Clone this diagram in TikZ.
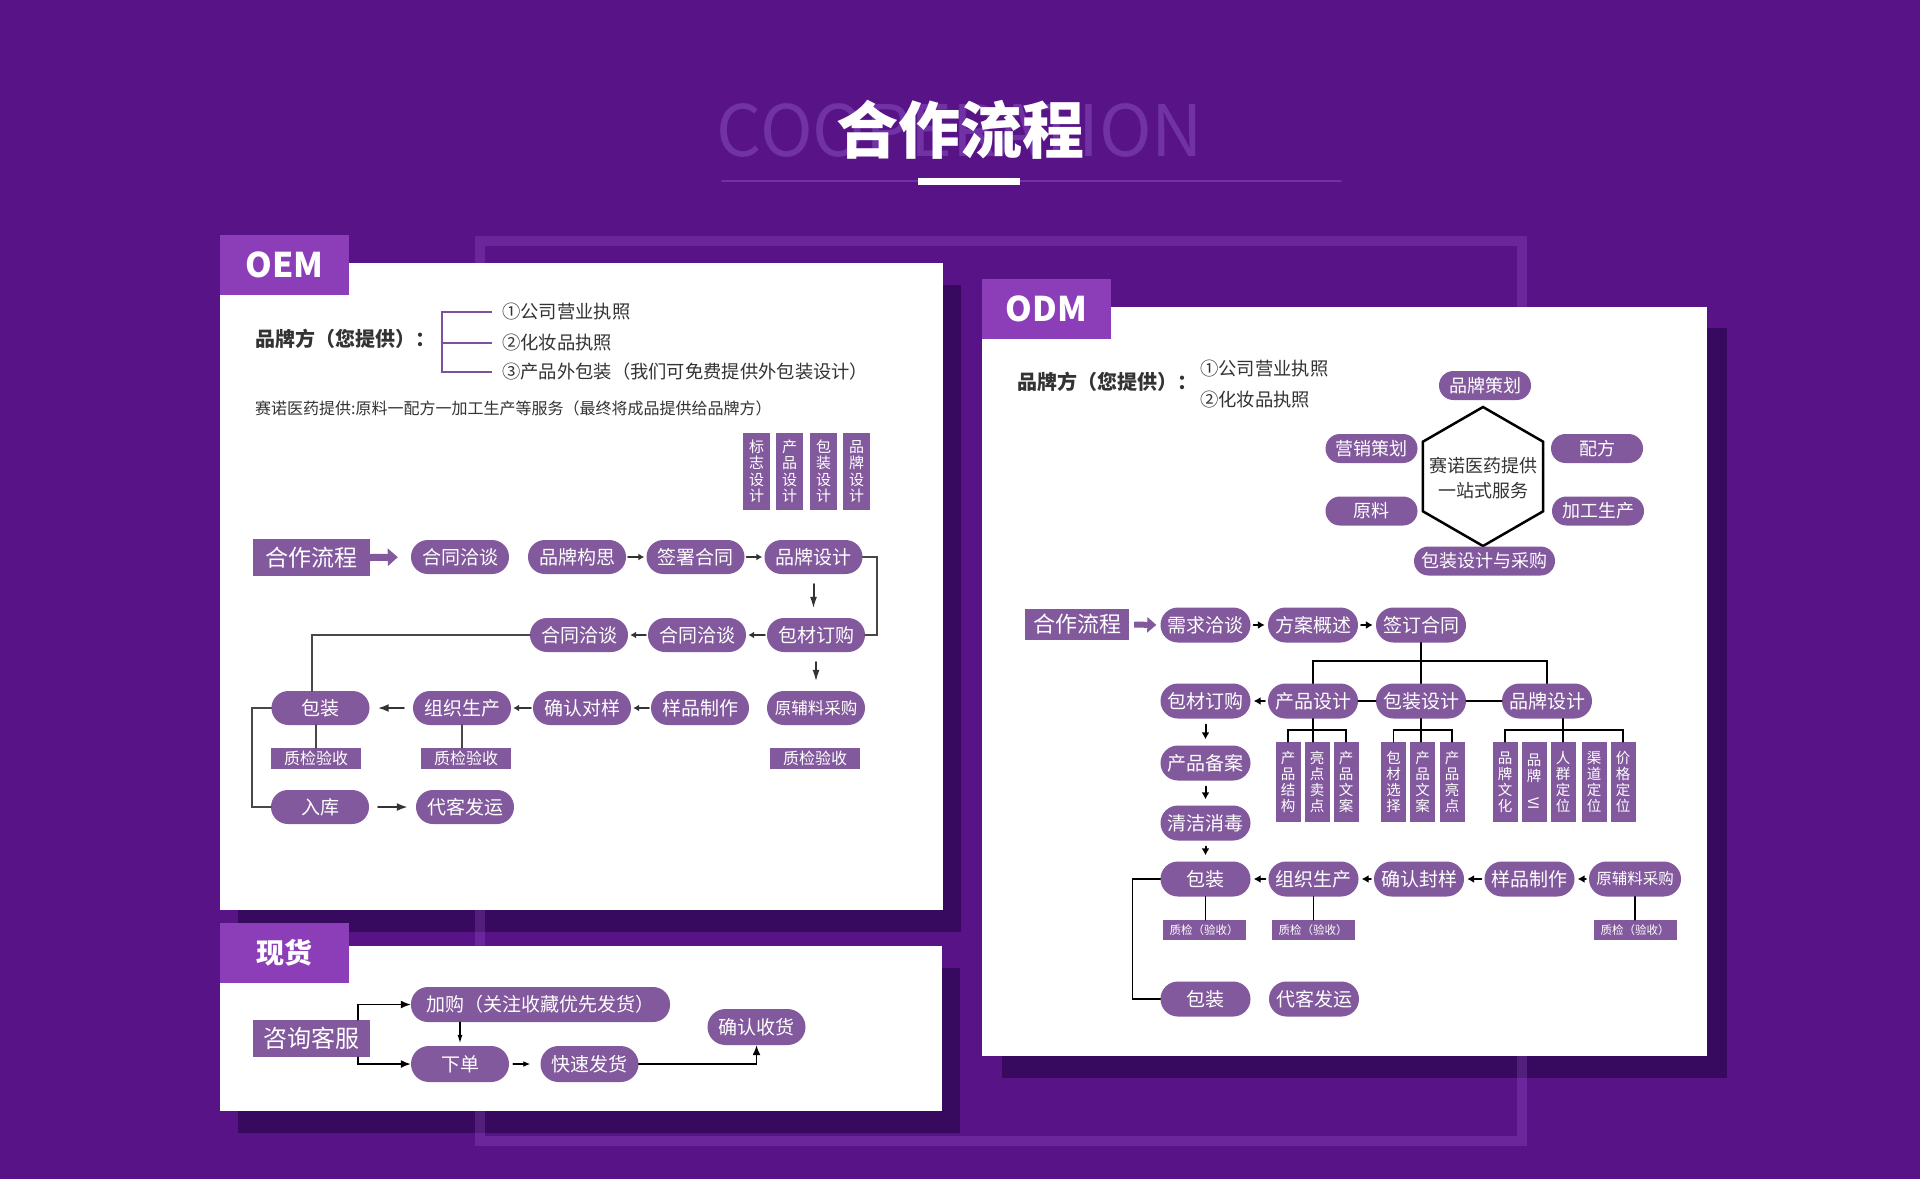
\documentclass[tikz,border=0pt]{standalone}
\usepackage{fontspec}
\usepackage{graphicx}
\setmainfont{Noto Sans CJK SC}
\usetikzlibrary{arrows.meta}
\definecolor{bgpurple}{RGB}{88,20,135}
\definecolor{ghostpurple}{RGB}{112,50,165}
\definecolor{framelight}{RGB}{165,95,215}
\definecolor{shadowpurple}{RGB}{55,10,95}
\definecolor{tabpurple}{RGB}{140,62,185}
\definecolor{pillpurple}{RGB}{131,89,158}
\definecolor{txtgray}{RGB}{51,51,51}
\definecolor{linegray}{RGB}{72,72,72}
\definecolor{linepurple}{RGB}{128,80,160}
\tikzset{
  paneltab/.style={fill=tabpurple,text=white,minimum width=129pt,minimum height=60pt,inner sep=0pt,font=\fontsize{34}{38}\selectfont\bfseries},
  pill/.style={fill=pillpurple,text=white,rounded corners=16.9pt,minimum width=98pt,minimum height=34pt,inner sep=0pt,font=\fontsize{19}{22}\selectfont},
  opill/.style={pill,minimum width=90pt,minimum height=35pt,rounded corners=17.4pt},
  satpill/.style={pill,minimum width=92pt,minimum height=29pt,rounded corners=14.4pt,font=\fontsize{18}{21}\selectfont},
  tagbox/.style={fill=pillpurple,text=white,minimum width=117pt,minimum height=37pt,inner sep=0pt,font=\fontsize{23}{26}\selectfont},
  vbox/.style={fill=pillpurple,text=white,minimum width=27pt,minimum height=77pt,inner sep=0pt,align=center,font=\fontsize{15}{16.5}\selectfont},
  cbox/.style={vbox,minimum width=25pt,minimum height=80pt,font=\fontsize{14.5}{16}\selectfont},
  qcbox/.style={fill=pillpurple,text=white,minimum width=90pt,minimum height=21pt,inner sep=0pt,font=\fontsize{16}{18}\selectfont},
  oqcbox/.style={qcbox,minimum width=83pt,minimum height=20pt,font=\fontsize{11.5}{13}\selectfont},
  brandtext/.style={text=txtgray,inner sep=0pt,anchor=west,font=\fontsize{20}{24}\selectfont\bfseries},
  supplyitem/.style={text=txtgray,inner sep=0pt,anchor=west,font=\fontsize{18.3}{22}\selectfont},
  hubtext/.style={inner sep=0pt,align=center,text=txtgray,font=\fontsize{18}{24.5}\selectfont},
  oline/.style={draw=linegray,line width=2pt},
  dline/.style={draw=black,line width=1.5pt},
  sarr/.style={draw=txtgray,line width=2pt,-{Latex[length=6pt,width=7pt]},shorten <=2pt,shorten >=2pt},
  larr/.style={draw=txtgray,line width=2pt,-{Latex[length=11pt,width=8pt]},shorten <=9pt,shorten >=8pt},
  varr/.style={draw=txtgray,line width=2pt,-{Latex[length=12pt,width=7pt]},shorten <=10pt,shorten >=9pt},
  barr/.style={draw=black,line width=1.5pt,-{Latex[length=10pt,width=8pt]}},
  darr/.style={draw=black,line width=2pt,-{Latex[length=7pt,width=8pt]},shorten <=3pt,shorten >=3pt},
  fatarr/.style={draw=pillpurple,line width=7pt,line cap=butt,-{Triangle[length=10pt,width=17pt]}}
}
\begin{document}
\begin{tikzpicture}[x=1pt,y=-1pt,line cap=round]
\useasboundingbox (0,0) rectangle (1920,1179);
\fill[bgpurple] (0,0) rectangle (1920,1179);
% heading
\node[text=ghostpurple,inner sep=0pt,font=\fontsize{71}{80}\selectfont] (ghost) at (960,130) {COOPERATION};
\draw[ghostpurple,line width=1.5pt] (722,181) -- (1341,181);
\node[text=white,inner sep=0pt,font=\fontsize{62}{70}\selectfont\bfseries] (title) at (960,130) {合作流程};
\fill[white] (918,178) rectangle (1020,185);
% shadows, frame, panels
\fill[shadowpurple] (238,285) rectangle (961,932);
\fill[shadowpurple] (238,968) rectangle (960,1133);
\fill[shadowpurple] (1002,328) rectangle (1727,1078);
\draw[framelight,opacity=0.25,line width=10pt,line cap=butt] (480,241) rectangle (1522,1141);
\fill[white] (220,263) rectangle (943,910);
\fill[white] (220,946) rectangle (942,1111);
\fill[white] (982,307) rectangle (1707,1056);
\node[paneltab] (oemtab) at (284.5,265) {OEM};
\node[paneltab,font=\fontsize{28}{32}\selectfont\bfseries] (xhtab) at (284.5,952.5) {现货};
\node[paneltab] (odmtab) at (1046.5,308.5) {ODM};

% OEM
\node[brandtext] (oembrand) at (255,339) {品牌方（您提供）：};
\node[supplyitem] (oemi1) at (502,312) {①公司营业执照};
\node[supplyitem] (oemi2) at (502,343) {②化妆品执照};
\node[supplyitem] (oemi3) at (502,372) {③产品外包装（我们可免费提供外包装设计）};
\coordinate (oembrk) at (442,343);
\draw[linepurple,line width=2pt,line cap=butt,shorten >=10pt] (oembrk) |- (oemi1.west);
\draw[linepurple,line width=2pt,line cap=butt,shorten >=10pt] (oembrk) |- (oemi3.west);
\draw[linepurple,line width=2pt,line cap=butt,shorten >=10pt] (oembrk) -- (oemi2.west);
\node[supplyitem,font=\fontsize{16}{18}\selectfont] (oemnote) at (255,408) {赛诺医药提供:原料一配方一加工生产等服务（最终将成品提供给品牌方）};
\node[vbox] (biaozhi) at (756.5,471.5) {标\\志\\设\\计};
\node[vbox] (chanpinsj) at (789.5,471.5) {产\\品\\设\\计};
\node[vbox] (baozhuangsj) at (823.5,471.5) {包\\装\\设\\计};
\node[vbox] (pinpaisj) at (856.5,471.5) {品\\牌\\设\\计};

\node[tagbox] (oemflow) at (311.5,557.5) {合作流程};
\node[pill] (hetong1) at (460,557) {合同洽谈};
\node[pill] (goucheng) at (577,557) {品牌构思};
\node[pill] (qianshu) at (695.5,557) {签署合同};
\node[pill] (pinpai) at (813.5,557) {品牌设计};
\node[pill] (baocai) at (816,635) {包材订购};
\node[pill] (hetong2) at (697,635) {合同洽谈};
\node[pill] (hetong3) at (579,635) {合同洽谈};
\node[pill] (baozhuang) at (320.5,708) {包装};
\node[pill] (zuzhi) at (462,708) {组织生产};
\node[pill] (queren) at (582,708) {确认对样};
\node[pill] (yangpin) at (700,708) {样品制作};
\node[pill,font=\fontsize{16.5}{20}\selectfont] (yuanfu) at (816,708) {原辅料采购};
\node[qcbox] (qc1) at (316,758.5) {质检验收};
\node[qcbox] (qc2) at (466,758.5) {质检验收};
\node[qcbox] (qc3) at (815,758.5) {质检验收};
\node[pill] (ruku) at (320,807) {入库};
\node[pill] (daike) at (465,807) {代客发运};

\draw[fatarr,shorten >=13pt] (oemflow.east) -- (hetong1.west);
\draw[sarr] (goucheng) -- (qianshu);
\draw[sarr] (qianshu) -- (pinpai);
\draw[varr] (pinpai.south) -- (pinpai.south |- baocai.north);
\draw[oline] (pinpai.east) -- ++(14,0) |- (baocai.east);
\draw[sarr] (baocai) -- (hetong2);
\draw[sarr] (hetong2) -- (hetong3);
\draw[oline] (hetong3.west) -| ([xshift=-9pt]baozhuang.north);
\draw[varr] (baocai.south) -- (yuanfu.north);
\draw[sarr] (yangpin) -- (queren);
\draw[sarr] (queren) -- (zuzhi);
\draw[larr] (zuzhi) -- (baozhuang);
\draw[oline] (baozhuang.south -| qc1.north) -- (qc1.north);
\draw[oline] (zuzhi.south) -- (zuzhi.south |- qc2.north);
\draw[oline] (baozhuang.west) -- ++(-19,0) |- (ruku.west);
\draw[larr] (ruku) -- (daike);

% xianhuo
\node[tagbox,font=\fontsize{24}{27}\selectfont] (zixun) at (311.5,1038.5) {咨询客服};
\node[pill,minimum width=259pt,minimum height=35pt] (jiagou) at (540.5,1004.5) {加购（关注收藏优先发货）};
\node[pill,minimum height=36pt,rounded corners=17.9pt] (xiadan) at (460,1064) {下单};
\node[pill,minimum height=36pt,rounded corners=17.9pt] (kuaisu) at (589.5,1064) {快速发货};
\node[pill,minimum height=36pt,rounded corners=17.9pt] (shouhuo) at (756.5,1027) {确认收货};
\draw[barr] ([xshift=-12pt]zixun.north east) |- (jiagou.west);
\draw[barr] ([xshift=-12pt]zixun.south east) |- (xiadan.west);
\draw[barr,-{Latex[length=9pt,width=5pt]},shorten >=2pt] (xiadan.north |- jiagou.south) -- (xiadan.north);
\draw[barr,-{Latex[length=7pt,width=6pt]},shorten <=4pt,shorten >=10pt] (xiadan) -- (kuaisu);
\draw[barr] (kuaisu.east) -| (shouhuo.south);

% ODM
\node[brandtext] (odmbrand) at (1017,382) {品牌方（您提供）：};
\node[supplyitem] (odmi1) at (1200,369) {①公司营业执照};
\node[supplyitem] (odmi2) at (1200,400) {②化妆品执照};
\node[hubtext] (hub) at (1483,478) {赛诺医药提供\\一站式服务};
\draw[black,line width=2.5pt,line join=miter] (1483,407) -- ++(60.2,34.75) -- ++(0,69.5) -- ++(-60.2,34.75) -- ++(-60.2,-34.75) -- ++(0,-69.5) -- cycle;
\node[satpill] (celue) at (1485,385.5) {品牌策划};
\node[satpill] (yingxiao) at (1371.5,448.5) {营销策划};
\node[satpill] (peifang) at (1597,448.5) {配方};
\node[satpill] (yuanliao) at (1371.5,511) {原料};
\node[satpill] (jiagong) at (1598,511) {加工生产};
\node[satpill,minimum width=141pt] (caigou) at (1484.5,561) {包装设计与采购};

\node[tagbox,minimum width=104pt,minimum height=31pt,font=\fontsize{22}{25}\selectfont] (odmflow) at (1077,624.5) {合作流程};
\node[opill] (xuqiu) at (1205.5,625) {需求洽谈};
\node[opill] (fangan) at (1313,625) {方案概述};
\node[opill] (qianding) at (1421,625) {签订合同};
\node[opill] (obaocai) at (1205.5,701) {包材订购};
\node[opill] (ochanpin) at (1313,701) {产品设计};
\node[opill] (obaozhuangsj) at (1421,701) {包装设计};
\node[opill] (opinpai) at (1547,701) {品牌设计};
\node[cbox] (cp1) at (1288,782) {产\\品\\结\\构};
\node[cbox] (cp2) at (1317,782) {亮\\点\\卖\\点};
\node[cbox] (cp3) at (1346,782) {产\\品\\文\\案};
\node[cbox] (bz1) at (1393.5,782) {包\\材\\选\\择};
\node[cbox] (bz2) at (1422.5,782) {产\\品\\文\\案};
\node[cbox] (bz3) at (1452,782) {产\\品\\亮\\点};
\node[cbox] (pp1) at (1505,782) {品\\牌\\文\\化};
\node[cbox] (pp2) at (1534,782) {品\\牌\\\rotatebox{-90}{VI}};
\node[cbox] (pp3) at (1563,782) {人\\群\\定\\位};
\node[cbox] (pp4) at (1594,782) {渠\\道\\定\\位};
\node[cbox] (pp5) at (1623,782) {价\\格\\定\\位};
\node[opill] (beian) at (1205.5,763) {产品备案};
\node[opill] (qingjie) at (1205.5,823) {清洁消毒};
\node[opill] (obaozhuang) at (1205.5,879) {包装};
\node[opill] (ozuzhi) at (1313.5,879) {组织生产};
\node[opill] (fengyang) at (1419,879) {确认封样};
\node[opill] (oyangpin) at (1529.5,879) {样品制作};
\node[opill,minimum width=92pt,font=\fontsize{15.5}{18}\selectfont] (oyuanfu) at (1635,879) {原辅料采购};
\node[oqcbox] (oqc1) at (1204,930) {质检（验收）};
\node[oqcbox] (oqc2) at (1313,930) {质检（验收）};
\node[oqcbox] (oqc3) at (1635,930) {质检（验收）};
\node[opill] (obaozhuang2) at (1205.5,999) {包装};
\node[opill] (odaike) at (1314,999) {代客发运};

\draw[fatarr,line width=6pt,-{Triangle[length=9pt,width=15pt]},shorten <=5pt,shorten >=4pt] (odmflow.east) -- (xuqiu.west);
\draw[darr] (xuqiu) -- (fangan);
\draw[darr] (fangan) -- (qianding);
\coordinate (otree) at (1421,661);
\draw[dline] (qianding.south) -- (otree);
\draw[dline] (ochanpin.north) |- (otree) -| (opinpai.north);
\draw[dline] (otree) -- (obaozhuangsj.north);
\draw[dline] (ochanpin) -- (obaozhuangsj);
\draw[dline] (obaozhuangsj) -- (opinpai);
\draw[darr] (ochanpin) -- (obaocai);
\draw[dline] (cp1.north) -- ++(0,-12) -| (cp3.north);
\draw[dline] (ochanpin.south) -- (ochanpin.south |- cp1.north);
\draw[dline] (bz1.north) -- ++(0,-12) -| (bz3.north);
\draw[dline] (obaozhuangsj.south) -- (obaozhuangsj.south |- bz1.north);
\draw[dline] (pp1.north) -- ++(0,-12) -| (pp5.north);
\draw[dline] (pp3.north) -- (pp3.north |- opinpai.south);
\draw[darr,shorten <=6pt,shorten >=6pt] (obaocai) -- (beian);
\draw[darr,shorten <=6pt,shorten >=6pt] (beian) -- (qingjie);
\draw[darr,shorten <=6pt,shorten >=6pt] (qingjie) -- (obaozhuang);
\draw[darr] (oyuanfu) -- (oyangpin);
\draw[darr] (oyangpin) -- (fengyang);
\draw[darr] (fengyang) -- (ozuzhi);
\draw[darr] (ozuzhi) -- (obaozhuang);
\draw[dline] (obaozhuang.south) -- (obaozhuang.south |- oqc1.north);
\draw[dline] (ozuzhi.south) -- (ozuzhi.south |- oqc2.north);
\draw[dline] (oyuanfu.south) -- (oyuanfu.south |- oqc3.north);
\draw[dline] (obaozhuang.west) -- ++(-28,0) |- (obaozhuang2.west);
\end{tikzpicture}
\end{document}
